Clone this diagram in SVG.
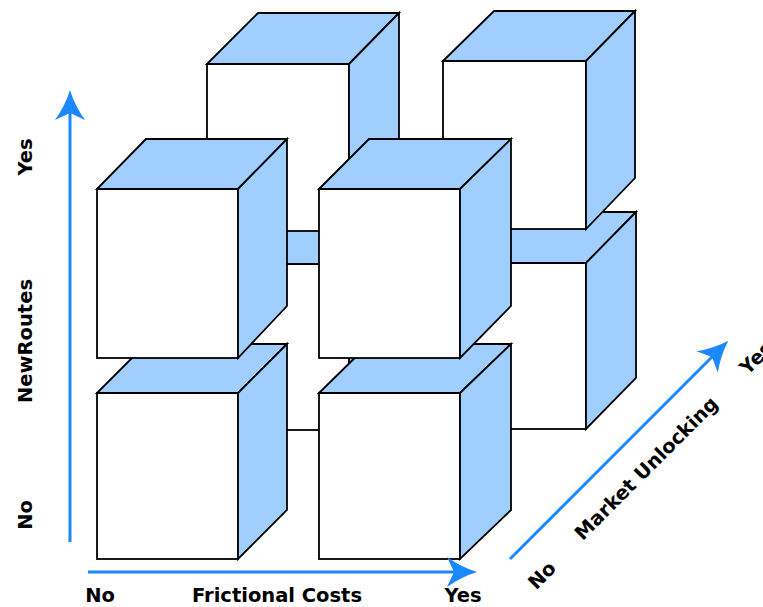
<svg xmlns="http://www.w3.org/2000/svg" width="763" height="607" viewBox="0 0 763 607">
<style>
.front{fill:#ffffff;stroke:#000;stroke-width:1.8;stroke-linejoin:miter}
.side{fill:#a0cfff;stroke:#000;stroke-width:1.8;stroke-linejoin:miter}
.axis{stroke:#1a88ff;stroke-width:3;fill:none}
.lbl{font-family:"DejaVu Sans",Verdana,sans-serif;font-weight:bold;font-size:19.5px;fill:#000}
</style>
<defs>
<marker id="arr" markerUnits="userSpaceOnUse" markerWidth="32" markerHeight="32" refX="10" refY="15" orient="auto" overflow="visible">
<path d="M0,0 Q15,10.5 30,15 Q15,19.5 0,30 L7,15 Z" fill="#1a88ff"/>
</marker>
</defs>
<rect width="763" height="607" fill="#fff"/>
<g id="cube-back-bottom-left">
<rect class="front" x="207" y="264" width="142" height="166"/>
<polygon class="side" points="207,264 257,213 399,213 349,264"/>
<polygon class="side" points="349,264 399,213 399,379 349,430"/>
</g>
<g id="cube-back-bottom-right">
<rect class="front" x="443" y="263" width="143" height="166"/>
<polygon class="side" points="443,263 494,212 636,212 586,263"/>
<polygon class="side" points="586,263 636,212 636,378 586,429"/>
</g>
<g id="cube-back-top-left">
<rect class="front" x="207" y="64" width="142" height="167"/>
<polygon class="side" points="207,64 258,13 399,13 349,64"/>
<polygon class="side" points="349,64 399,13 399,180 349,231"/>
</g>
<g id="cube-back-top-right">
<rect class="front" x="443" y="61" width="143" height="168"/>
<polygon class="side" points="443,61 494,11 635,11 586,61"/>
<polygon class="side" points="586,61 635,11 635,178 586,229"/>
</g>
<g id="cube-front-bottom-left">
<rect class="front" x="97" y="393" width="141" height="166"/>
<polygon class="side" points="97,393 146,344 287,344 238,393"/>
<polygon class="side" points="238,393 287,344 287,510 238,559"/>
</g>
<g id="cube-front-bottom-right">
<rect class="front" x="319" y="393" width="141" height="166"/>
<polygon class="side" points="319,393 369,344 511,344 460,393"/>
<polygon class="side" points="460,393 511,344 511,510 460,559"/>
</g>
<g id="cube-front-top-left">
<rect class="front" x="97" y="189" width="141" height="169"/>
<polygon class="side" points="97,189 146,139 287,139 238,189"/>
<polygon class="side" points="238,189 287,139 287,306 238,358"/>
</g>
<g id="cube-front-top-right">
<rect class="front" x="319" y="189" width="141" height="169"/>
<polygon class="side" points="319,189 369,139 511,139 460,189"/>
<polygon class="side" points="460,189 511,139 511,306 460,358"/>
</g>
<g id="connectors">
<line class="axis" x1="70" y1="542" x2="70" y2="110" marker-end="url(#arr)"/>
<line class="axis" x1="88" y1="572" x2="457" y2="572" marker-end="url(#arr)"/>
<line class="axis" x1="510" y1="559" x2="714.2" y2="354.8" marker-end="url(#arr)"/>
</g>
<g id="labels">
<text class="lbl" x="100" y="602" text-anchor="middle">No</text>
<text class="lbl" x="277" y="602" text-anchor="middle">Frictional Costs</text>
<text class="lbl" x="463" y="602" text-anchor="middle">Yes</text>
<text class="lbl" transform="translate(31.5,157) rotate(-90)" text-anchor="middle">Yes</text>
<text class="lbl" transform="translate(31.5,341) rotate(-90)" text-anchor="middle">NewRoutes</text>
<text class="lbl" transform="translate(31.5,515) rotate(-90)" text-anchor="middle">No</text>
<text class="lbl" transform="translate(546.7,580) rotate(-45)" text-anchor="middle">No</text>
<text class="lbl" transform="translate(651,473) rotate(-45)" text-anchor="middle">Market Unlocking</text>
<text class="lbl" transform="translate(760.8,362.6) rotate(-45)" text-anchor="middle">Yes</text>
</g>
</svg>
